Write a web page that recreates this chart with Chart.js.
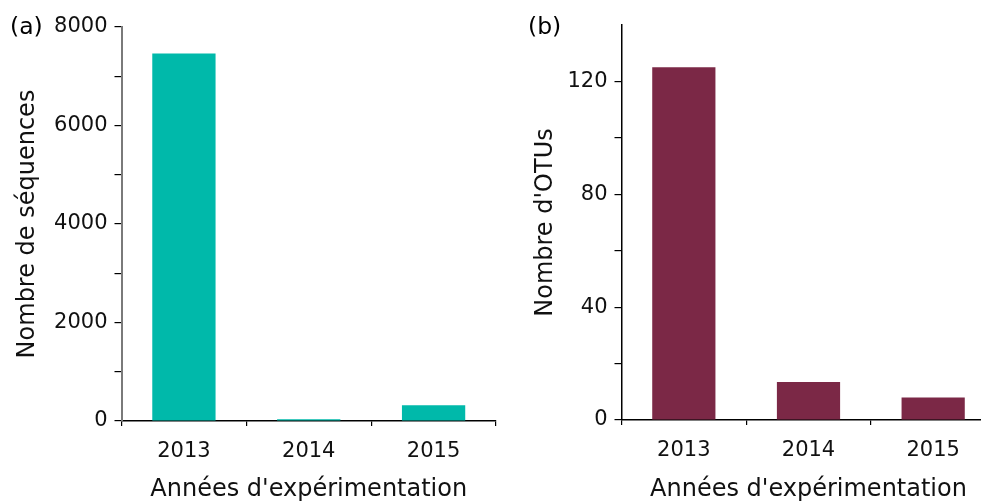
<!DOCTYPE html>
<html>
<head>
<meta charset="utf-8">
<script src="https://cdn.jsdelivr.net/npm/chart.js@4"></script>
<style>
  html, body { margin: 0; padding: 0; background: #fff; overflow: hidden; }
  #wrapA { position: absolute; left: 0; top: 0; width: 500px; height: 506px; }
  #wrapB { position: absolute; left: 500px; top: 0; width: 481px; height: 506px; overflow: hidden; }
</style>
</head>
<body>
<div id="wrapA"><canvas id="cA" width="500" height="506"></canvas></div>
<div id="wrapB"><canvas id="cB" width="500" height="506"></canvas></div>
<script>
// ---- data ----
const years = ['2013', '2014', '2015'];
const sequences = [7460, 35, 320];
const otus = [125, 13.5, 8];
const panelLabels = ['(a)', '(b)'];
const yTitles = ['Nombre de séquences', "Nombre d'OTUs"];
const xTitle = "Années d'expérimentation";

const FONT = "'DejaVu Sans', sans-serif";

function panelLabelPlugin(text, x, y) {
  return {
    id: 'panelLabel',
    afterDraw(chart) {
      const ctx = chart.ctx;
      ctx.save();
      ctx.font = '23.5px ' + FONT;
      ctx.fillStyle = '#000';
      ctx.textAlign = 'left';
      ctx.textBaseline = 'middle';
      ctx.fillText(text, x, y);
      ctx.restore();
    }
  };
}

function makeChart(id, data, color, opts) {
  return new Chart(document.getElementById(id), {
    type: 'bar',
    data: {
      labels: years,
      datasets: [{
        data: data,
        backgroundColor: color,
        borderWidth: 0,
        categoryPercentage: 1,
        barPercentage: 0.507
      }]
    },
    options: {
      responsive: false,
      animation: false,
      devicePixelRatio: 1,
      layout: { padding: { top: opts.top, right: opts.right, left: 0, bottom: 0 } },
      plugins: { legend: { display: false }, tooltip: { enabled: false } },
      scales: {
        x: {
          offset: true,
          afterFit: s => { s.height = opts.xHeight; },
          border: { color: '#000', width: 1.5 },
          grid: { offset: true, drawOnChartArea: false, drawTicks: true, tickLength: 5, color: '#000', lineWidth: 1.2 },
          ticks: { color: '#111', font: { family: FONT, size: 21 }, padding: 13, maxRotation: 0 },
          title: { display: true, text: xTitle, color: '#111', font: { family: FONT, size: 24 }, padding: { top: 0, bottom: 2 } }
        },
        y: {
          min: 0,
          max: opts.max,
          afterFit: s => { s.width = 121.5; },
          border: { color: opts.yBorder, width: opts.yBorderWidth },
          grid: {
            drawOnChartArea: false, drawTicks: true, tickLength: 7, lineWidth: 1.2,
            color: c => (c.tick && c.tick.value > opts.lastTick) ? 'rgba(0,0,0,0)' : '#000'
          },
          ticks: {
            stepSize: opts.step,
            autoSkip: false,
            color: '#111',
            font: { family: FONT, size: 21 },
            padding: 7,
            callback: v => (v % opts.labelStep === 0 ? String(v) : '')
          },
          title: { display: true, text: opts.yTitle, color: '#111', font: { family: FONT, size: 24 }, padding: { top: opts.yTitlePad, bottom: 0 } }
        }
      }
    },
    plugins: [panelLabelPlugin(opts.label, opts.labelX, opts.labelY)]
  });
}

makeChart('cA', sequences, '#00B9AA', {
  top: 27, right: 4, xHeight: 85, max: 8000, step: 1000, labelStep: 2000, lastTick: 8000,
  yBorder: '#7a7a7a', yBorderWidth: 2, yTitle: yTitles[0], yTitlePad: 13,
  label: panelLabels[0], labelX: 10, labelY: 28
});

makeChart('cB', otus, '#7B2846', {
  top: 25, right: 4.5, xHeight: 86, max: 140, step: 20, labelStep: 40, lastTick: 120,
  yBorder: '#000', yBorderWidth: 1.5, yTitle: yTitles[1], yTitlePad: 31,
  label: panelLabels[1], labelX: 28, labelY: 28
});
</script>
</body>
</html>
